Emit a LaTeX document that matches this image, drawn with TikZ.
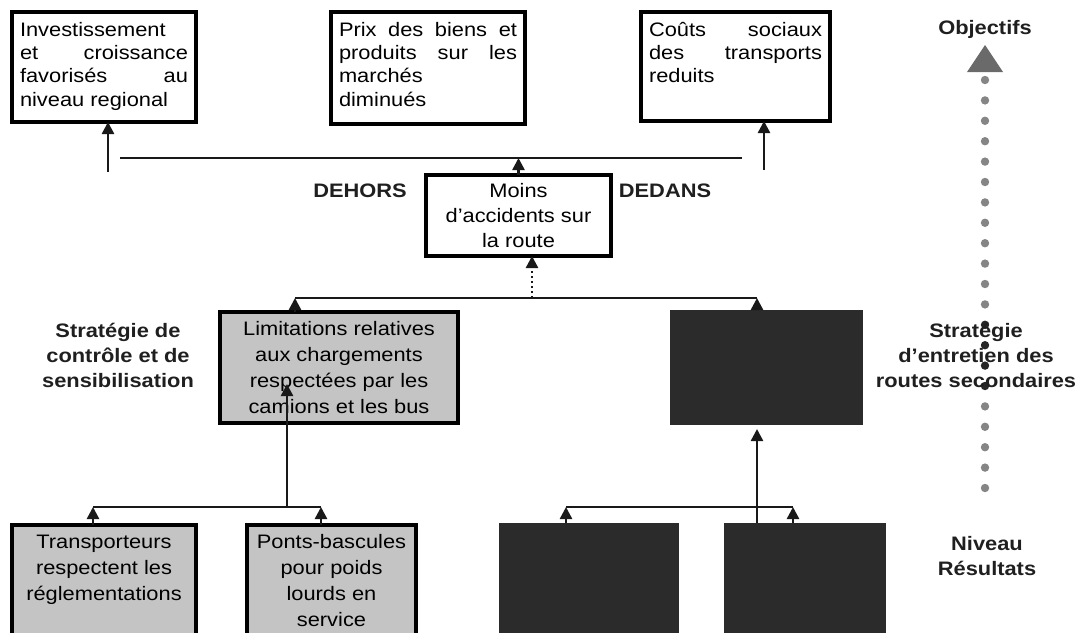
\documentclass[tikz,border=0pt]{standalone}
\usepackage{fontspec}
\setmainfont{Liberation Sans}[FakeStretch=1.12]
\usetikzlibrary{arrows.meta}
\definecolor{boxgray}{HTML}{C4C4C4}
\definecolor{boxblack}{HTML}{2B2B2B}
\definecolor{dotgray}{HTML}{858585}
\definecolor{trigray}{HTML}{6A6A6A}
\begin{document}
\begin{tikzpicture}[x=1pt,y=-1pt,
  every node/.style={font=\fontsize{19.5}{23.3}\selectfont},
  frame/.style={draw=black, line width=4.5pt, inner sep=0pt, outer sep=0pt},
  grayframe/.style={frame, fill=boxgray},
  blackbox/.style={draw=boxblack, fill=boxblack, line width=1pt, inner sep=0pt, outer sep=0pt},
  lbl/.style={font=\bfseries\fontsize{19.5}{25}\selectfont, align=center, text=black!88, inner sep=0pt},
  link/.style={draw=black!90, line width=2.5pt},
  arr/.style={link, -{Triangle[width=12pt,length=12pt]}},
  dotlink/.style={arr, dash pattern=on 2pt off 3pt}
]
\useasboundingbox (0,0) rectangle (1081,632);
\clip (0,0) rectangle (1081,632);

% objective boxes
\node[frame, anchor=north west, inner sep=8pt] (A) at (12,12)
  {\parbox[c][94pt][t]{168pt}{\strut Investissement\\ et\hfill croissance\\ favorisés\hfill au\\ niveau regional}};
\node[frame, anchor=north west, inner sep=8pt] (B) at (331,12)
  {\parbox[c][96pt][t]{178pt}{\strut Prix\hfill des\hfill biens\hfill et\\ produits\hfill sur\hfill les\\ marchés\\ diminués}};
\node[frame, anchor=north west, inner sep=8pt] (C) at (641,12)
  {\parbox[c][93pt][t]{173pt}{\strut Coûts\hfill sociaux\\ des\hfill transports\\ reduits}};

% purpose box
\node[frame, minimum width=185pt, minimum height=81pt, align=center,
  font=\fontsize{19.5}{25}\selectfont] (D) at (518.5,215.5)
  {Moins\\d’accidents sur\\la route};

% strategy level
\node[grayframe, minimum width=238pt, minimum height=111pt, align=center,
  font=\fontsize{19.5}{25.7}\selectfont] (E) at (339,367.5)
  {Limitations relatives\\aux chargements\\respectées par les\\camions et les bus};
\node[blackbox, minimum width=192pt, minimum height=114pt] (F) at (766,367) {};

% results level
\node[grayframe, line width=3.5pt, anchor=north west, inner xsep=0pt, inner ysep=5pt,
  font=\fontsize{19.5}{26}\selectfont] (G) at (12,525)
  {\parbox[c][130pt][t]{184pt}{\centering\strut Transporteurs\\ respectent les\\ réglementations}};
\node[grayframe, line width=3.5pt, anchor=north west, inner xsep=0pt, inner ysep=5pt,
  font=\fontsize{19.5}{26}\selectfont] (H) at (247,525)
  {\parbox[c][130pt][t]{169pt}{\centering\strut Ponts-bascules\\ pour poids\\ lourds en\\ service}};
\node[blackbox, minimum width=179pt, minimum height=130pt, anchor=north west] (I) at (499,523) {};
\node[blackbox, minimum width=161pt, minimum height=130pt, anchor=north west] (J) at (724,523) {};

% side labels
\node[lbl, anchor=base] (dehors) at (360,197) {DEHORS};
\node[lbl, anchor=base] (dedans) at (665,197) {DEDANS};
\node[lbl, anchor=base] (obj) at (985,34) {Objectifs};

% dotted level arrow
\fill[trigray] (967,72) -- (1003,72) -- (985,45) -- cycle;
\foreach \i in {0,...,20} {
  \pgfmathsetmacro\yy{80+\i*20.4}
  \ifnum\i>11 \ifnum\i<16
    \fill[black!85] (985,\yy) circle (4.2pt);
  \else
    \fill[dotgray] (985,\yy) circle (4.2pt);
  \fi\else
    \fill[dotgray] (985,\yy) circle (4.2pt);
  \fi
}

\node[lbl] (strat1) at (118,355) {Stratégie de\\contrôle et de\\sensibilisation};
\node[lbl] (strat2) at (976,355) {Stratégie\\d’entretien des\\routes secondaires};
\node[lbl] (niveau) at (987,556) {Niveau\\Résultats};

% top connectors
\coordinate (hl) at (120,158);
\coordinate (hr) at (742,158);
\draw[link] (hl) -- (hr);
\draw[arr] (D.north) -- (D.north |- hl);
\coordinate (a1) at (108,172);
\draw[arr] (a1) -- (a1 |- A.south);
\coordinate (c1) at (764,170);
\draw[arr] (c1) -- (c1 |- C.south);

% middle connectors
\coordinate (ml) at (295,298);
\coordinate (mr) at (757,298);
\coordinate (mc) at (532,298);
\draw[link] (ml) -- (mr);
\draw[arr] (ml |- E.north) -- (ml);
\draw[arr] (mr |- F.north) -- (mr);
\draw[dotlink] (mc) -- (mc |- D.south);

% lower left connectors
\coordinate (ll) at (93,507);
\coordinate (lr) at (321,507);
\coordinate (lc) at (287,507);
\coordinate (et) at (287,384);
\draw[link] (ll) -- (lr);
\draw[arr] (ll |- G.north) -- (ll);
\draw[arr] (lr |- H.north) -- (lr);
\draw[arr] (lc) -- (et);

% lower right connectors
\coordinate (rl) at (566,507);
\coordinate (rr) at (793,507);
\coordinate (rc) at (757,507);
\draw[link] (rl) -- (rr);
\draw[arr] (rl |- I.north) -- (rl);
\draw[arr] (rr |- J.north) -- (rr);
\draw[arr, shorten >=5pt] (rc |- J.north) -- (rc |- F.south);
\end{tikzpicture}
\end{document}
